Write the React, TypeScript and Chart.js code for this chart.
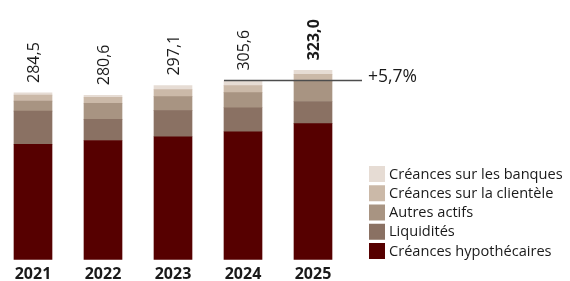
import React, { useEffect, useRef } from "react";
import { Chart, registerables } from "chart.js";
Chart.register(...registerables);

const years = ["2021", "2022", "2023", "2024", "2025"];
const totals = [284.5, 280.6, 297.1, 305.6, 323.0];
const totalLabels = ["284,5", "280,6", "297,1", "305,6", "323,0"];
const hypothecaires = [197.0, 203.5, 209.8, 218.3, 232.3];
const liquidites = [56.5, 36.0, 44.5, 41.0, 37.7];
const autresActifs = [17.1, 27.4, 24.0, 25.7, 34.2];
const creancesClientele = [10.3, 10.3, 12.0, 12.0, 12.0];
const creancesBanques = [3.6, 3.4, 6.8, 8.6, 6.8];
const growthLabel = "+5,7%";

const FONT = "'Open Sans', 'Noto Sans', sans-serif";

const overlayPlugin = {
  id: "overlay",
  afterDatasetsDraw(chart: any) {
    const ctx = chart.ctx;
    const y = chart.scales.y;
    const meta0 = chart.getDatasetMeta(0);
    ctx.save();
    // total labels
    totals.forEach((t, i) => {
      const bar = meta0.data[i];
      const top = y.getPixelForValue(t);
      ctx.save();
      ctx.translate(bar.x + 5.5, top - 10);
      ctx.rotate(-Math.PI / 2);
      ctx.textAlign = "left";
      ctx.textBaseline = "alphabetic";
      ctx.fillStyle = "#1a1a1a";
      ctx.font = (i === totals.length - 1 ? "bold " : "") + "16px " + FONT;
      ctx.fillText(totalLabels[i], 0, 0);
      ctx.restore();
    });
    // growth line
    const b3 = meta0.data[3];
    const ly = y.getPixelForValue(totals[3]);
    ctx.strokeStyle = "#4d4d4d";
    ctx.lineWidth = 1.5;
    ctx.beginPath();
    ctx.moveTo(b3.x - b3.width / 2, ly);
    ctx.lineTo(364, ly);
    ctx.stroke();
    ctx.fillStyle = "#1a1a1a";
    ctx.font = "17.5px " + FONT;
    ctx.textAlign = "left";
    ctx.textBaseline = "middle";
    ctx.fillText(growthLabel, 370, ly - 3.5);
    // legend
    const n = chart.data.datasets.length;
    for (let k = 0; k < n; k++) {
      const ds = chart.data.datasets[n - 1 - k];
      const by = 166 + k * 19.25;
      ctx.fillStyle = ds.backgroundColor;
      ctx.fillRect(371, by, 16, 16);
      ctx.fillStyle = "#1a1a1a";
      ctx.font = "14.6px " + FONT;
      ctx.textBaseline = "middle";
      ctx.fillText(ds.label, 391, by + 8.5);
    }
    ctx.restore();
  },
};

export default function App() {
  const ref = useRef<HTMLCanvasElement | null>(null);
  useEffect(() => {
    if (!ref.current) return;
    const chart = new Chart(ref.current, {
      type: "bar",
      data: {
        labels: years,
        datasets: [
          { label: "Créances hypothécaires", data: hypothecaires, backgroundColor: "#560000" },
          { label: "Liquidités", data: liquidites, backgroundColor: "#8a7163" },
          { label: "Autres actifs", data: autresActifs, backgroundColor: "#a89482" },
          { label: "Créances sur la clientèle", data: creancesClientele, backgroundColor: "#cbb9a8" },
          { label: "Créances sur les banques", data: creancesBanques, backgroundColor: "#e6dcd4" },
        ],
      },
      options: {
        animation: false,
        responsive: false,
        maintainAspectRatio: false,
        layout: { padding: { left: 0, right: 222, top: 0, bottom: 0 } },
        datasets: { bar: { barThickness: 38, borderWidth: 0 } },
        plugins: { legend: { display: false }, tooltip: { enabled: false } },
        scales: {
          x: {
            stacked: true,
            grid: { display: false, drawTicks: false },
            border: { display: false },
            ticks: { padding: 5, color: "#1a1a1a", font: { family: FONT, size: 16, weight: "bold" } },
          },
          y: { stacked: true, display: false, min: 0, max: 443 },
        },
      },
      plugins: [overlayPlugin],
    });
    return () => chart.destroy();
  }, []);
  return (
    <div style={{ position: "fixed", left: -2, top: 0, width: 572, height: 289, background: "#fff" }}>
      <canvas ref={ref} width={572} height={289} style={{ display: "block" }} />
    </div>
  );
}
